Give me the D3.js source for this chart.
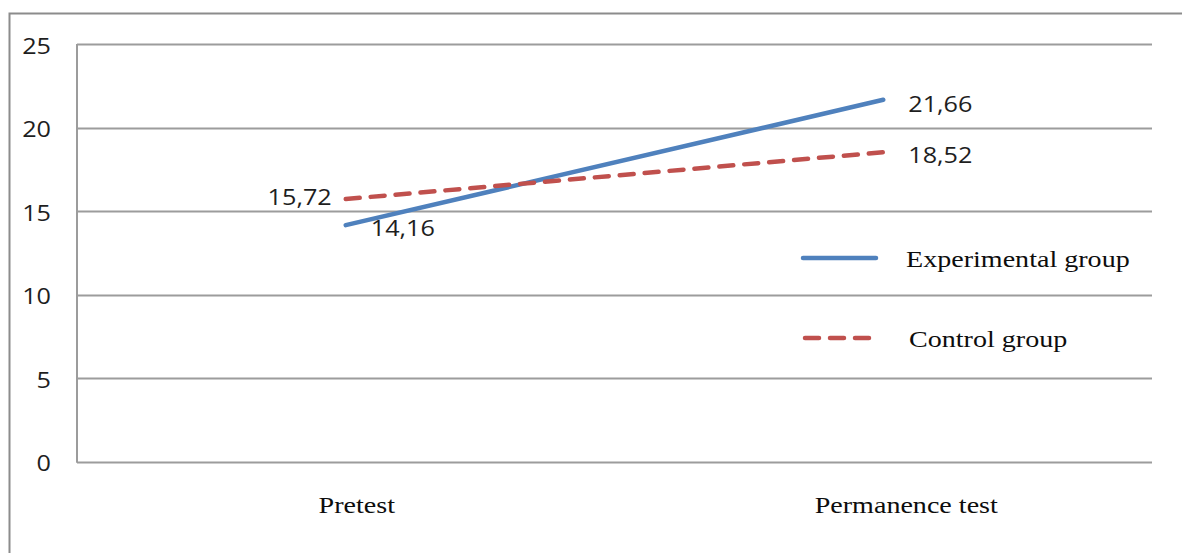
<!DOCTYPE html>
<html>
<head>
<meta charset="utf-8">
<script src="https://cdn.jsdelivr.net/npm/d3@7"></script>
<style>
  html, body { margin: 0; padding: 0; background: #fff; }
  svg { display: block; }
</style>
</head>
<body>
<svg id="chart" width="1182" height="553"></svg>
<script>
// Test phases and mean scores per group
const categories = ["Pretest", "Permanence test"];
const experimental = [14.16, 21.66];
const control = [15.72, 18.52];
const seriesNames = ["Experimental group", "Control group"];
const yTicks = [0, 5, 10, 15, 20, 25];

const svg = d3.select("#chart");
const sansFont = "'Open Sans', sans-serif";
const serifFont = "'Liberation Serif', 'Times New Roman', serif";
const colors = { exp: "#4f81bd", ctl: "#c0504d", grid: "#9c9c9c", text: "#1e1e1e", serif: "#0d0d0d" };
const dash = "14,11";

// wide-set text: drawn at (x, y) and stretched horizontally by sx
function wideText(parent, x, y, str, opts) {
  const g = parent.append("g").attr("transform", `translate(${x},${y}) scale(${opts.sx},1)`);
  g.append("text")
    .attr("text-anchor", opts.anchor || "start")
    .attr("font-family", opts.font).attr("font-size", opts.size)
    .attr("fill", opts.fill || colors.text)
    .text(str);
  return g;
}

// outer chart frame
svg.append("rect")
  .attr("x", 9.5).attr("y", 13.5)
  .attr("width", 1200).attr("height", 600)
  .attr("fill", "none").attr("stroke", "#8c8c8c").attr("stroke-width", 2);

const x = d3.scaleBand().domain(categories).range([77, 1152]);
const y = d3.scaleLinear().domain([0, 25]).range([461.7, 44]);
const px = c => x(c) + x.bandwidth() / 2;

// horizontal gridlines
svg.append("g").selectAll("line").data(yTicks).join("line")
  .attr("x1", 77).attr("x2", 1152)
  .attr("y1", d => Math.round(y(d)) + 0.5).attr("y2", d => Math.round(y(d)) + 0.5)
  .attr("stroke", colors.grid).attr("stroke-width", 2);

// vertical axis line
svg.append("line")
  .attr("x1", 77).attr("x2", 77)
  .attr("y1", y(25)).attr("y2", y(0) + 1)
  .attr("stroke", colors.grid).attr("stroke-width", 2);

// y axis labels
const yLab = svg.append("g");
yTicks.forEach(t => wideText(yLab, 51, y(t) + 9.5, String(t),
  { anchor: "end", font: sansFont, size: 21, sx: 1.2 }));

// category labels
const catShift = [11, 23];
const xLab = svg.append("g");
categories.forEach((c, i) => wideText(xLab, px(c) + catShift[i], 513, c,
  { anchor: "middle", font: serifFont, size: 24, sx: 1.17, fill: colors.serif }));

const line = d3.line().x((d, i) => px(categories[i])).y(d => y(d));

svg.append("path").datum(experimental)
  .attr("d", line).attr("fill", "none")
  .attr("stroke", colors.exp).attr("stroke-width", 4.5).attr("stroke-linecap", "round");

svg.append("path").datum(control)
  .attr("d", line).attr("fill", "none")
  .attr("stroke", colors.ctl).attr("stroke-width", 4.5)
  .attr("stroke-dasharray", dash).attr("stroke-linecap", "round");

const fmt = v => v.toFixed(2).replace(".", ",");

// data labels
const labels = [
  { v: experimental[0], i: 0, dx: 25, dy: 11, anchor: "start" },
  { v: experimental[1], i: 1, dx: 25, dy: 12, anchor: "start" },
  { v: control[0], i: 0, dx: -14, dy: 6, anchor: "end" },
  { v: control[1], i: 1, dx: 25, dy: 11, anchor: "start" }
];
const dl = svg.append("g");
labels.forEach(d => wideText(dl, px(categories[d.i]) + d.dx, y(d.v) + d.dy, fmt(d.v),
  { anchor: d.anchor, font: sansFont, size: 21, sx: 1.2 }));

// legend
const legend = svg.append("g");
const legendItems = [
  { name: seriesNames[0], color: colors.exp, dash: null, y: 258, lx1: 803, lx2: 876, tx: 906 },
  { name: seriesNames[1], color: colors.ctl, dash: dash, y: 338, lx1: 805, lx2: 872, tx: 909 }
];
legendItems.forEach(d => {
  legend.append("line")
    .attr("x1", d.lx1).attr("x2", d.lx2).attr("y1", d.y).attr("y2", d.y)
    .attr("stroke", d.color).attr("stroke-width", 4.5).attr("stroke-linecap", "round")
    .attr("stroke-dasharray", d.dash);
  wideText(legend, d.tx, d.y + 9, d.name, { font: serifFont, size: 24, sx: 1.17, fill: colors.serif });
});
</script>
</body>
</html>
